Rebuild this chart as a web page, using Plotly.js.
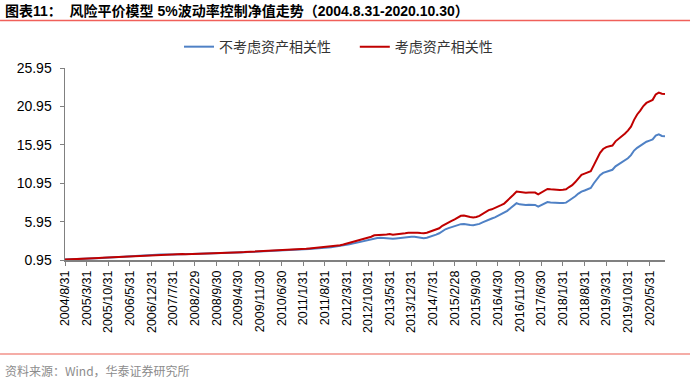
<!DOCTYPE html>
<html>
<head>
<meta charset="utf-8">
<script src="https://cdn.plot.ly/plotly-3.0.1.min.js"></script>
<style>html,body{margin:0;padding:0;background:#fff;}#chart{width:700px;height:379px;}</style>
</head>
<body>
<div id="chart"></div>
<script>
// Monthly month-end dates 2004/8/31 .. 2020/10/30
const startYear = 2004, startMonth = 8, nMonths = 195;
const dates = [];
for (let i = 0; i < nMonths; i++) {
  const m0 = startMonth - 1 + i;
  const y = startYear + Math.floor(m0 / 12);
  const m = (m0 % 12) + 1;
  const d = new Date(Date.UTC(y, m, 0)).getUTCDate();
  dates.push(y + "/" + m + "/" + d);
}
dates[nMonths - 1] = "2020/10/30";

const seriesNames = ["不考虑资产相关性", "考虑资产相关性"];

const noCorr = [
  1.00, 1.01, 1.03, 1.05, 1.07,
  1.09, 1.10, 1.12, 1.14, 1.16, 1.18, 1.20, 1.22, 1.24, 1.25, 1.27, 1.30,
  1.33, 1.35, 1.38, 1.41, 1.44, 1.46, 1.48, 1.50, 1.52, 1.54, 1.56, 1.59,
  1.62, 1.63, 1.65, 1.67, 1.70, 1.68, 1.66, 1.69, 1.71, 1.72, 1.70, 1.72,
  1.74, 1.75, 1.76, 1.75, 1.77, 1.76, 1.78, 1.80, 1.81, 1.83, 1.86, 1.88,
  1.89, 1.90, 1.92, 1.93, 1.95, 1.96, 1.98, 2.00, 2.02, 2.04, 2.06, 2.08,
  2.07, 2.09, 2.11, 2.10, 2.09, 2.12, 2.14, 2.16, 2.19, 2.21, 2.24, 2.28,
  2.30, 2.34, 2.38, 2.42, 2.47, 2.49, 2.51, 2.54, 2.57, 2.60, 2.65, 2.70,
  2.76, 2.84, 2.92, 3.00, 3.08, 3.18, 3.28, 3.36, 3.44, 3.54, 3.64, 3.78,
  3.80, 3.84, 3.80, 3.79, 3.80, 3.72, 3.76, 3.82, 3.88, 3.92, 3.96, 3.97,
  3.97, 3.92, 3.84, 3.79, 3.84, 3.96, 4.12, 4.25, 4.43, 4.75, 4.95, 5.10,
  5.25, 5.40, 5.50, 5.62, 5.65, 5.55, 5.50, 5.48, 5.52, 5.65, 5.85, 6.05,
  6.25, 6.35, 6.50, 6.70, 6.90, 7.05, 7.35, 7.70, 8.05, 8.34, 8.20, 8.12,
  8.10, 8.14, 8.15, 8.12, 7.90, 8.10, 8.30, 8.50, 8.45, 8.40, 8.38, 8.36,
  8.38, 8.42, 8.70, 8.95, 9.25, 9.60, 9.86, 10.00, 10.18, 10.32, 10.95, 11.50,
  12.00, 12.30, 12.45, 12.55, 12.70, 13.15, 13.40, 13.75, 13.95, 14.20, 14.60, 15.20,
  15.55, 15.80, 16.15, 16.35, 16.50, 16.65, 17.15, 17.30, 17.10, 17.05
];

const withCorr = [
  1.00, 1.01, 1.03, 1.05, 1.07,
  1.09, 1.10, 1.12, 1.14, 1.17, 1.19, 1.21, 1.23, 1.25, 1.26, 1.28, 1.31,
  1.34, 1.36, 1.39, 1.42, 1.45, 1.47, 1.49, 1.51, 1.53, 1.55, 1.57, 1.60,
  1.63, 1.64, 1.66, 1.68, 1.71, 1.69, 1.67, 1.70, 1.72, 1.73, 1.71, 1.73,
  1.75, 1.76, 1.77, 1.76, 1.78, 1.77, 1.79, 1.81, 1.82, 1.84, 1.87, 1.90,
  1.91, 1.92, 1.94, 1.95, 1.97, 1.98, 2.00, 2.03, 2.05, 2.07, 2.10, 2.12,
  2.11, 2.13, 2.15, 2.14, 2.13, 2.16, 2.18, 2.20, 2.23, 2.26, 2.30, 2.34,
  2.36, 2.40, 2.44, 2.48, 2.53, 2.56, 2.59, 2.63, 2.66, 2.70, 2.76, 2.82,
  2.88, 2.98, 3.08, 3.20, 3.30, 3.42, 3.53, 3.64, 3.72, 3.86, 3.98, 4.17,
  4.22, 4.28, 4.25, 4.27, 4.33, 4.24, 4.27, 4.34, 4.40, 4.44, 4.50, 4.52,
  4.53, 4.50, 4.46, 4.43, 4.50, 4.62, 4.77, 4.90, 5.08, 5.40, 5.65, 5.85,
  6.05, 6.25, 6.45, 6.70, 6.75, 6.62, 6.55, 6.50, 6.55, 6.70, 6.95, 7.20,
  7.45, 7.55, 7.70, 7.90, 8.10, 8.30, 8.65, 9.05, 9.45, 9.86, 9.80, 9.73,
  9.70, 9.75, 9.76, 9.73, 9.50, 9.70, 9.95, 10.20, 10.15, 10.10, 10.08, 10.08,
  10.10, 10.15, 10.45, 10.70, 11.10, 11.60, 12.03, 12.20, 12.35, 12.50, 13.30, 14.10,
  14.90, 15.40, 15.65, 15.75, 15.85, 16.40, 16.70, 17.10, 17.40, 17.80, 18.30, 19.20,
  19.90, 20.40, 21.00, 21.40, 21.60, 21.80, 22.50, 22.75, 22.60, 22.55
];

const yTicks = [0.95, 5.95, 10.95, 15.95, 20.95, 25.95];
const xTickLabels = dates.filter((d, i) => i % 7 === 0);

const titleText = "图表11：  风险平价模型 5%波动率控制净值走势（2004.8.31-2020.10.30）";
const sourceText = "资料来源：Wind，华泰证券研究所";

const FONT = "'Liberation Sans', Arial, 'Noto Sans CJK SC', sans-serif";
const CJK = "'Noto Sans CJK SC', 'Liberation Sans', sans-serif";

const traces = [
  { x: dates, y: noCorr, name: seriesNames[0], type: "scatter", mode: "lines",
    legend: "legend", line: { color: "#4f81c5", width: 2 } },
  { x: dates, y: withCorr, name: seriesNames[1], type: "scatter", mode: "lines",
    legend: "legend2", line: { color: "#c00000", width: 2 } }
];

const legendStyle = (x) => ({
  orientation: "h", x: x, xanchor: "left", y: 1.109, yanchor: "middle",
  font: { family: CJK, size: 14, color: "#333" },
  bgcolor: "rgba(0,0,0,0)"
});

const layout = {
  width: 700, height: 379,
  margin: { l: 65, r: 35, t: 68, b: 119, pad: 0 },
  paper_bgcolor: "#fff", plot_bgcolor: "#fff",
  font: { family: FONT, color: "#000" },
  showlegend: true,
  legend: legendStyle(0.19),
  legend2: legendStyle(0.483),
  xaxis: {
    type: "category",
    range: [0, nMonths - 1],
    tickmode: "array", tickvals: xTickLabels, ticktext: xTickLabels,
    tickangle: -90,
    tickfont: { family: FONT, size: 12.5, color: "#000" },
    ticks: "outside", ticklen: 4, tickcolor: "#808080", tickwidth: 1,
    showline: true, linecolor: "#808080", linewidth: 1.5,
    showgrid: false, zeroline: false, fixedrange: true
  },
  yaxis: {
    range: [0.95, 25.95],
    tickmode: "array", tickvals: yTicks, ticktext: yTicks.map(v => v.toFixed(2)),
    tickfont: { family: FONT, size: 14, color: "#000" },
    ticks: "outside", ticklen: 4, tickcolor: "#808080", tickwidth: 1,
    ticklabelstandoff: 5,
    showline: true, linecolor: "#808080", linewidth: 1.5,
    showgrid: false, zeroline: false, fixedrange: true
  },
  shapes: [
    { type: "line", xref: "paper", yref: "paper", x0: -0.1083, x1: 1.0417, y0: 1.2474, y1: 1.2474,
      line: { color: "#f0605a", width: 1.5 } },
    { type: "line", xref: "paper", yref: "paper", x0: -0.1083, x1: 1.0417, y0: -0.4896, y1: -0.4896,
      line: { color: "#f2928a", width: 1.5 } }
  ],
  annotations: [
    { text: "<b>" + titleText + "</b>", xref: "paper", yref: "paper", x: -0.1033, y: 1.297,
      xanchor: "left", yanchor: "middle", showarrow: false,
      font: { family: FONT, size: 14, color: "#000" } },
    { text: sourceText, xref: "paper", yref: "paper", x: -0.1033, y: -0.573,
      xanchor: "left", yanchor: "middle", showarrow: false,
      font: { family: CJK, size: 12, color: "#8c8c8c" } }
  ]
};

Plotly.newPlot("chart", traces, layout, { displayModeBar: false, staticPlot: true });
</script>
</body>
</html>
